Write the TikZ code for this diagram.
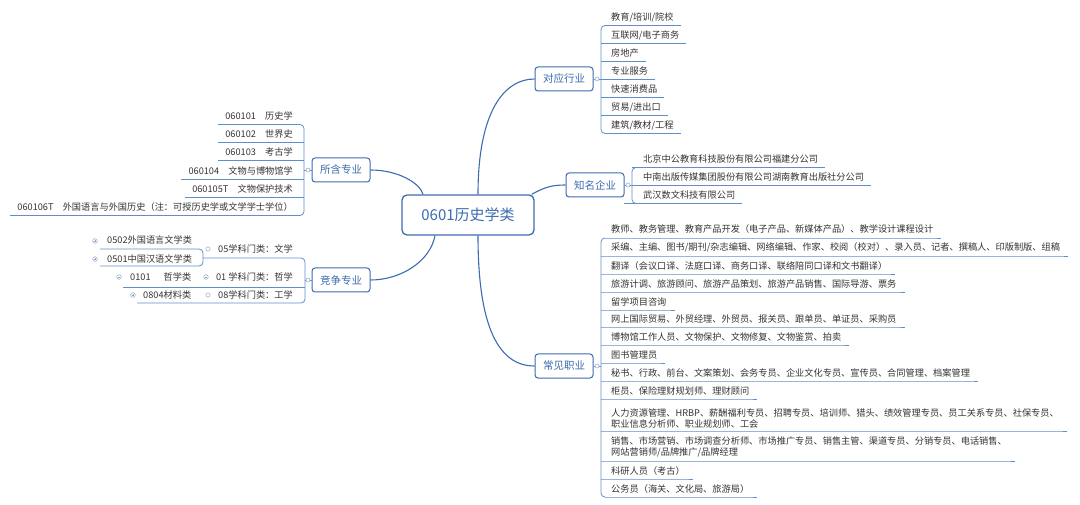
\documentclass[tikz,border=0pt]{standalone}
\usepackage{fontspec}
\setmainfont{Noto Sans CJK SC}
\usetikzlibrary{calc}
\definecolor{mapblue}{HTML}{3C6BB0}
\definecolor{lineblue}{HTML}{5F8ECB}
\definecolor{leafgray}{HTML}{333333}
\definecolor{knobgray}{HTML}{8FA6C4}
\newcommand{\plusknob}[1]{\filldraw[knob] #1 circle (2.3pt); \draw[knobgray, line width=0.5pt] #1 ++(-1.3,0) -- ++(2.6,0) #1 ++(0,-1.3) -- ++(0,2.6);}
\newcommand{\minusknob}[1]{\filldraw[knob] #1 circle (2.3pt); \draw[knobgray, line width=0.5pt] #1 ++(-1.3,0) -- ++(2.6,0);}

\begin{document}
\begin{tikzpicture}[x=1pt,y=-1pt,
  topic/.style={draw=mapblue, line width=1pt, rounded corners=3pt, fill=white, text=mapblue,
    font=\fontsize{10.5}{12}\selectfont, minimum width=58pt, minimum height=24pt, inner sep=0pt},
  leaf/.style={text=leafgray, font=\fontsize{9.2}{11}\selectfont, inner sep=0pt, align=left},
  uline/.style={draw=lineblue, line width=0.8pt},
  branch/.style={draw=mapblue, line width=1.1pt},
  knob/.style={draw=knobgray, fill=white, line width=0.5pt}]
	\useasboundingbox (0,0) rectangle (1080,505);
	\node[topic, minimum width=132pt, minimum height=40pt, rounded corners=5pt, line width=1.3pt,
	  font=\fontsize{15}{18}\selectfont] (root) at (468,215) {0601历史学类};
	\node[topic] (hy) at (564,79) {对应行业};
	\node[topic] (qy) at (595,185) {知名企业};
	\node[topic] (zy) at (564,366) {常见职业};
	\node[topic] (sh) at (341,170) {所含专业};
	\node[topic] (jz) at (341,280) {竞争专业};
	\draw[branch] ([xshift=-45pt]root.north) .. controls (420,183) and (398,170) .. (sh.east);
	\draw[branch] ([xshift=10pt]root.north) .. controls (478,110) and (505,79) .. (hy.west);
	\draw[branch] ([xshift=-3pt]root.north east) .. controls (545,187) and (552,185) .. (qy.west);
	\draw[branch] ([xshift=-33pt]root.south) .. controls (430,262) and (400,280) .. (jz.east);
	\draw[branch] ([xshift=10pt]root.south) .. controls (478,330) and (500,366) .. (zy.west);
	\coordinate (hyb) at (601,79);
	\coordinate (qyb) at (632,185);
	\coordinate (zyb) at (601,366);
	\coordinate (shb) at (304,170);
	\coordinate (jzb) at (305,280);
	\draw[uline] (hy.east) -- (hyb);
	\draw[uline] (qy.east) -- (qyb);
	\draw[uline] (zy.east) -- (zyb);
	\draw[uline] (sh.west) -- (shb);
	\draw[uline] (jz.west) -- (jzb);
	\foreach \t [count=\i, evaluate=\i as \y using 17+18*(\i-1), evaluate=\i as \sx using 605-4*(\i>1)*(\i<7)] in {%
	  {教育/培训/院校},{互联网/电子商务},{房地产},{专业服务},{快速消费品},{贸易/进出口},{建筑/教材/工程}}{
	  \node[leaf, anchor=west] (hy\i) at (611,\y) {\t};
	  \draw[uline] (\sx,\y+8.5) -- (hy\i.east |- 0,\y+8.5) -- ++(7,0);
	}
	\draw[uline, rounded corners=4pt] (605,25.5) -- (601,25.5) -- (601,133.5) -- (605,133.5);
	\foreach \t [count=\i, evaluate=\i as \y using 159+18*(\i-1), evaluate=\i as \sx using 636-4*(\i==2)] in {%
	  {北京中公教育科技股份有限公司福建分公司},%
	  {中南出版传媒集团股份有限公司湖南教育出版社分公司},%
	  {武汉数文科技有限公司}}{
	  \node[leaf, anchor=west] (qy\i) at (643,\y) {\t};
	  \draw[uline] (\sx,\y+8.5) -- (qy\i.east |- 0,\y+8.5) -- ++(7,0);
	}
	\draw[uline, rounded corners=4pt] (636,167.5) -- (632,167.5) -- (632,203.5) -- (636,203.5);
	\foreach \y/\u/\t [count=\i, evaluate=\i as \sx using 605-4*(\i>1)*(\i<14)] in {%
	  229/238/{教师、教务管理、教育产品开发（电子产品、新媒体产品）、教学设计课程设计},%
	  247/256/{采编、主编、图书/期刊/杂志编辑、网络编辑、作家、校阅（校对）、录入员、记者、撰稿人、印版制版、组稿},%
	  266/274/{翻译（会议口译、法庭口译、商务口译、联络陪同口译和文书翻译）},%
	  284/292/{旅游计调、旅游顾问、旅游产品策划、旅游产品销售、国际导游、票务},%
	  302/310/{留学项目咨询},%
	  319/327/{网上国际贸易、外贸经理、外贸员、报关员、跟单员、单证员、采购员},%
	  337/345/{博物馆工作人员、文物保护、文物修复、文物鉴赏、拍卖},%
	  355/363/{图书管理员},%
	  373/381/{秘书、行政、前台、文案策划、会务专员、企业文化专员、宣传员、合同管理、档案管理},%
	  391/399/{柜员、保险理财规划师、理财顾问},%
	  418/431/{人力资源管理、HRBP、薪酬福利专员、招聘专员、培训师、猎头、绩效管理专员、员工关系专员、社保专员、\\职业信息分析师、职业规划师、工会},%
	  447/461/{销售、市场营销、市场调查分析师、市场推广专员、销售主管、渠道专员、分销专员、电话销售、\\网站营销师/品牌推广/品牌经理},%
	  471/479/{科研人员（考古）},%
	  489/497/{公务员（海关、文化局、旅游局）}}{
	  \node[leaf, anchor=west] (zy\i) at (611,\y) {\t};
	  \draw[uline] (\sx,\u) -- (zy\i.east |- 0,\u) -- ++(8,0);
	}
	\draw[uline, rounded corners=4pt] (605,238) -- (601,238) -- (601,497) -- (605,497);
	\foreach \t [count=\i, evaluate=\i as \y using 116+18.2*(\i-1), evaluate=\i as \sx using 300+4*(\i>1)*(\i<6)] in {%
	  {060101　历史学},{060102　世界史},{060103　考古学},{060104　文物与博物馆学},{060105T　文物保护技术},%
	  {060106T　外国语言与外国历史（注：可授历史学或文学学士学位）}}{
	  \node[leaf, anchor=east] (sh\i) at (293,\y) {\t};
	  \draw[uline] (sh\i.west |- 0,\y+8.5) ++(-7,0) -- (\sx,\y+8.5);
	}
	\draw[uline, rounded corners=4pt] (300,124.5) -- (304,124.5) -- (304,215.5) -- (300,215.5);
	\node[leaf, anchor=east] (wx) at (293,249) {05学科门类：文学};
	\node[leaf, anchor=east] (zx) at (293,277) {01 学科门类：哲学};
	\node[leaf, anchor=east] (gx) at (293,295) {08学科门类：工学};
	\node[leaf, anchor=west] (wg) at (107,240) {0502外国语言文学类};
	\node[leaf, anchor=west] (hw) at (107,259) {0501中国汉语文学类};
	\node[leaf, anchor=west] (zxl) at (130,277) {0101\hspace{13pt}哲学类};
	\node[leaf, anchor=west] (cl) at (143,295) {0804材料类};
	\draw[uline, rounded corners=4pt] (100,249) -- (203,249) -- (203,266) -- (100,266);
	\draw[uline, rounded corners=4pt] (203,258) -- (305,258) -- (305,303) -- (137,303);
	\draw[uline] (123,287) -- (305,287);
	\plusknob{(95,241)}
	\plusknob{(95,259)}
	\plusknob{(133,295)}
	\minusknob{(119,277)}
	\minusknob{(206,277)}
	\filldraw[knob] (208,249) circle (2.2pt);
	\filldraw[knob] (208,295) circle (2.2pt);
	\filldraw[knob] (597,79) circle (2pt);
	\filldraw[knob] (628,185) circle (2pt);
	\filldraw[knob] (597,366) circle (2pt);
	\filldraw[knob] (308,170) circle (2pt);
	\filldraw[knob] (308,280) circle (2pt);
\end{tikzpicture}
\end{document}
